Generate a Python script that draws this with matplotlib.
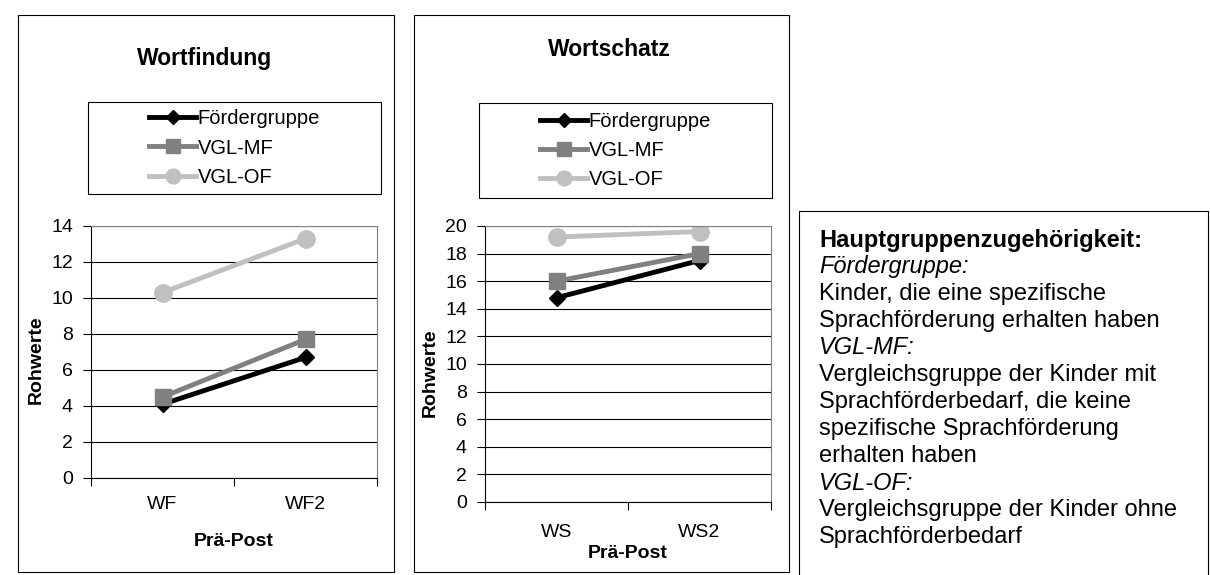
import numpy as np
import matplotlib.pyplot as plt
from matplotlib.patches import Rectangle
from matplotlib.lines import Line2D

plt.rcParams['font.family'] = ['Liberation Sans', 'DejaVu Sans']

# Daten
gruppen = ['Fördergruppe', 'VGL-MF', 'VGL-OF']

wf_kat = ['WF', 'WF2']
wf_foerder = [4.1, 6.7]
wf_vglmf = [4.5, 7.7]
wf_vglof = [10.3, 13.3]

ws_kat = ['WS', 'WS2']
ws_foerder = [14.8, 17.5]
ws_vglmf = [16.0, 18.0]
ws_vglof = [19.2, 19.6]

farben = ['#000000', '#808080', '#c0c0c0']
marker = ['D', 's', 'o']
msize = [8.5, 11.5, 12.5]

W, H = 1210, 575
fig = plt.figure(figsize=(W / 100, H / 100), dpi=100)


def box(x0, y0, x1, y1):
    fig.add_artist(Rectangle((x0 / W, 1 - y1 / H), (x1 - x0) / W, (y1 - y0) / H,
                             transform=fig.transFigure, fill=False,
                             ec='black', lw=0.8))


def panel(rahmen, achse, titel, titel_xy, kat, reihen, ymax, leg, xpad, xl_y):
    box(*rahmen)
    x0, y0, x1, y1 = achse
    ax = fig.add_axes([x0 / W, 1 - y1 / H, (x1 - x0) / W, (y1 - y0) / H])
    x = np.arange(len(kat))
    for werte, name, c, m, ms in zip(reihen, gruppen, farben, marker, msize):
        ax.plot(x, werte, color=c, lw=3.5, marker=m, ms=ms, mfc=c, mec=c,
                label=name)
    ax.set_xlim(-0.5, len(kat) - 0.5)
    ax.set_ylim(0, ymax)
    ax.set_yticks(np.arange(0, ymax + 1, 2))
    ax.set_xticks(np.arange(len(kat) + 1) - 0.5)
    ax.set_xticklabels([])
    ax.set_xticks(x, minor=True)
    ax.set_xticklabels(kat, minor=True)
    ax.tick_params(axis='x', which='major', length=6, width=0.8)
    ax.tick_params(axis='x', which='minor', length=0, pad=xpad, labelsize=14)
    ax.tick_params(axis='y', length=6, width=0.8, pad=7, labelsize=14)
    ax.grid(axis='y', color='black', lw=0.8)
    ax.set_axisbelow(True)
    for s in ['top', 'right']:
        ax.spines[s].set_color('#808080')
    for s in ['left', 'bottom']:
        ax.spines[s].set_linewidth(0.8)

    ax.set_ylabel('Rohwerte', fontsize=14, fontweight='bold')
    ax.yaxis.set_label_coords(-55 / (x1 - x0), 0.47)
    ax.yaxis.label.set_va('center')
    ax.set_xlabel('Prä-Post', fontsize=14, fontweight='bold')
    ax.xaxis.set_label_coords(0.5, (y1 - xl_y) / (y1 - y0))
    ax.xaxis.label.set_va('center')

    fig.text(titel_xy[0] / W, 1 - titel_xy[1] / H, titel,
             ha='center', va='center', fontsize=16.5, fontweight='bold')

    box(*leg)
    handles = [Line2D([], [], color=c, lw=3.5, marker=m, ms=ms * 0.85,
                      mfc=c, mec=c) for c, m, ms in zip(farben, marker, msize)]
    fig.legend(handles, gruppen, loc='center',
               bbox_to_anchor=((leg[0] + leg[2]) / 2 / W,
                               1 - (leg[1] + leg[3]) / 2 / H),
               frameon=False, fontsize=14.5, handlelength=2.35,
               handletextpad=0.05, labelspacing=0.5, borderpad=0)
    return ax


panel((18, 15, 394, 572), (91, 226, 377, 478), 'Wortfindung', (205, 58),
      wf_kat, [wf_foerder, wf_vglmf, wf_vglof], 14, (88, 102, 381, 194), 13, 542)
panel((414, 15, 789, 572), (485, 226, 771, 502), 'Wortschatz', (609, 50),
      ws_kat, [ws_foerder, ws_vglmf, ws_vglof], 20, (479, 103, 772, 198), 16, 553)

# Textfeld mit Erklaerung
box(799, 211, 1208, 600)
zeilen = [
    ('Hauptgruppenzugehörigkeit:', 'fett'),
    ('Fördergruppe:', 'kursiv'),
    ('Kinder, die eine spezifische', ''),
    ('Sprachförderung erhalten haben', ''),
    ('VGL-MF:', 'kursiv'),
    ('Vergleichsgruppe der Kinder mit', ''),
    ('Sprachförderbedarf, die keine', ''),
    ('spezifische Sprachförderung', ''),
    ('erhalten haben', ''),
    ('VGL-OF:', 'kursiv'),
    ('Vergleichsgruppe der Kinder ohne', ''),
    ('Sprachförderbedarf', ''),
]
for i, (txt, stil) in enumerate(zeilen):
    fig.text(819 / W, 1 - (240 + 27 * i) / H, txt, fontsize=17, va='center',
             fontweight='bold' if stil == 'fett' else 'normal',
             fontstyle='italic' if stil == 'kursiv' else 'normal')

fig.savefig('out.png', dpi=100)
